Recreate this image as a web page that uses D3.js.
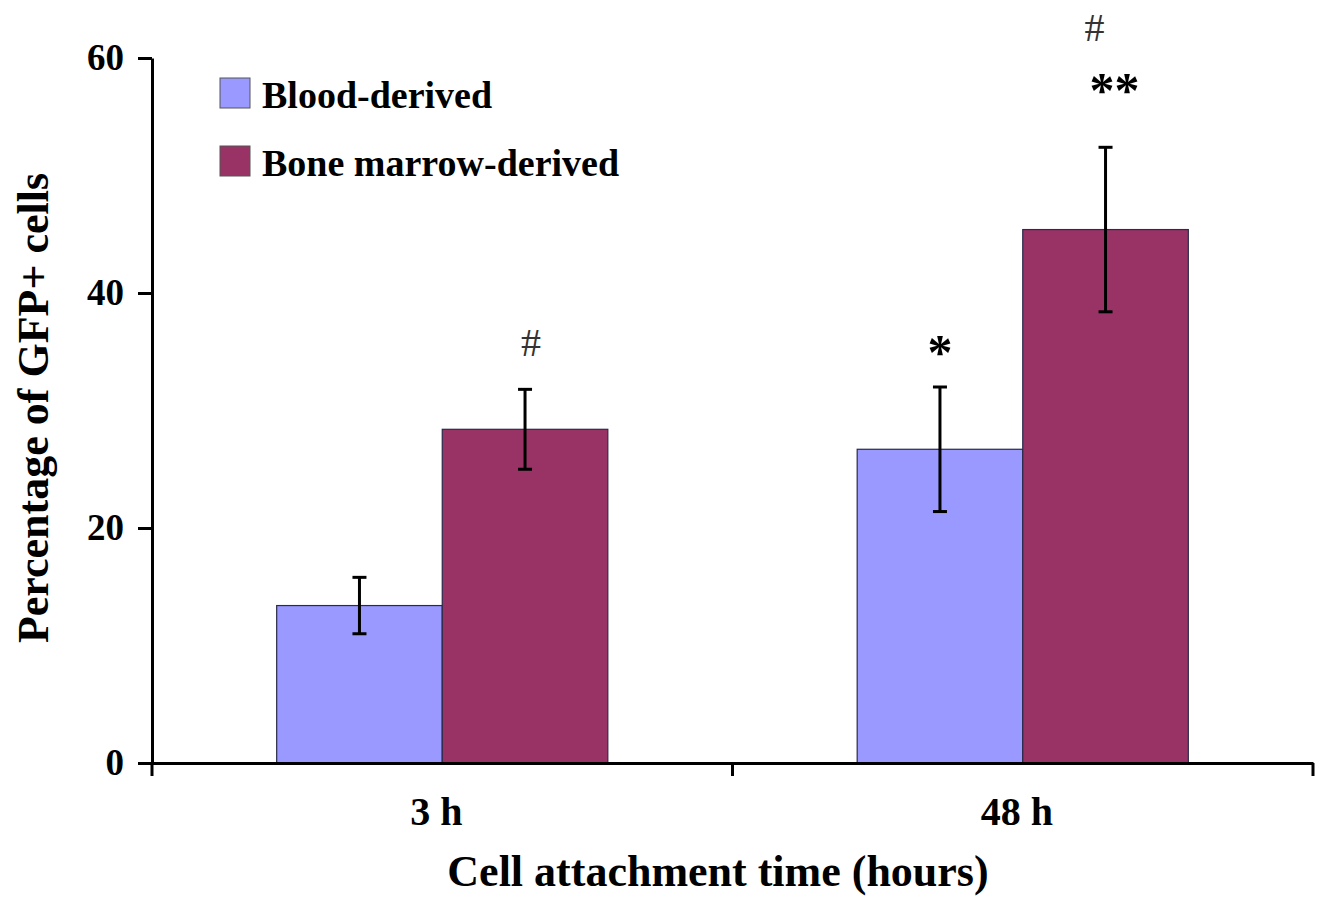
<!DOCTYPE html>
<html>
<head>
<meta charset="utf-8">
<script src="https://cdn.jsdelivr.net/npm/d3@7"></script>
<style>
  body { margin: 0; background: #fff; }
  text { font-family: "Liberation Serif", "Times New Roman", serif; }
</style>
</head>
<body>
<script>
var categories = ["3 h", "48 h"];
var series = ["Blood-derived", "Bone marrow-derived"];
var bloodValues = [13.4, 26.7];
var bloodErrors = [2.4, 5.3];
var boneValues = [28.4, 45.4];
var boneErrors = [3.4, 7.0];
var yTicks = [0, 20, 40, 60];
var marks = [
    { cat: "3 h", s: "Bone marrow-derived", text: "#" },
    { cat: "48 h", s: "Blood-derived", text: "*" },
    { cat: "48 h", s: "Bone marrow-derived", text: "**" },
    { cat: "48 h", s: "Bone marrow-derived", text: "#" }
];

// placement of the marks relative to the error bar top (layout only)
var markOffsets = [[6, -33], [0, -18], [9, -40], [-11, -106]];

var colors = { "Blood-derived": "#9999ff", "Bone marrow-derived": "#993366" };

var w = 1323, h = 899;
var margin = { top: 58, right: 10, bottom: 136, left: 152 };

var svg = d3.select("body").append("svg")
    .attr("width", w)
    .attr("height", h);

var x0 = d3.scaleBand()
    .domain(categories)
    .range([margin.left, 1313])
    .padding(0);

var x1 = d3.scaleBand()
    .domain(series)
    .range([0, x0.bandwidth()])
    .paddingInner(0)
    .paddingOuter(0.753);

var y = d3.scaleLinear()
    .domain([0, 60])
    .range([763, 58]);

var rows = [];
categories.forEach(function(c, i) {
    rows.push({ cat: c, s: series[0], v: bloodValues[i], e: bloodErrors[i] });
    rows.push({ cat: c, s: series[1], v: boneValues[i], e: boneErrors[i] });
});

// bars
svg.selectAll("rect.bar")
    .data(rows)
    .enter().append("rect")
    .attr("class", "bar")
    .attr("x", function(d) { return x0(d.cat) + x1(d.s); })
    .attr("y", function(d) { return y(d.v); })
    .attr("width", x1.bandwidth())
    .attr("height", function(d) { return y(0) - y(d.v); })
    .attr("fill", function(d) { return colors[d.s]; })
    .attr("stroke", "#2a2a4a")
    .attr("stroke-width", 1.2);

// error bars
var eb = svg.selectAll("g.err")
    .data(rows)
    .enter().append("g")
    .attr("class", "err")
    .attr("transform", function(d) {
        return "translate(" + (x0(d.cat) + x1(d.s) + x1.bandwidth() / 2) + ",0)";
    });

eb.append("line")
    .attr("y1", function(d) { return y(d.v + d.e); })
    .attr("y2", function(d) { return y(d.v - d.e); })
    .attr("stroke", "#000")
    .attr("stroke-width", 3);

eb.selectAll("line.cap")
    .data(function(d) { return [d.v + d.e, d.v - d.e]; })
    .enter().append("line")
    .attr("class", "cap")
    .attr("x1", -7).attr("x2", 7)
    .attr("y1", function(v) { return y(v); })
    .attr("y2", function(v) { return y(v); })
    .attr("stroke", "#000")
    .attr("stroke-width", 3);

// significance marks
svg.selectAll("text.mark")
    .data(marks)
    .enter().append("text")
    .attr("class", "mark")
    .attr("x", function(d, i) {
        return x0(d.cat) + x1(d.s) + x1.bandwidth() / 2 + markOffsets[i][0];
    })
    .attr("y", function(d, i) {
        var r = rows.filter(function(r) { return r.cat === d.cat && r.s === d.s; })[0];
        return y(r.v + r.e) + markOffsets[i][1];
    })
    .attr("text-anchor", "middle")
    .attr("font-size", function(d) { return d.text === "#" ? 40 : 50; })
    .attr("font-weight", function(d) { return d.text === "#" ? "normal" : "bold"; })
    .attr("fill", function(d) { return d.text === "#" ? "#333" : "#000"; })
    .text(function(d) { return d.text; });

// y axis
var yAxis = svg.append("g")
    .attr("class", "axis axis--y")
    .attr("transform", "translate(" + margin.left + ",0)")
    .call(d3.axisLeft(y).tickValues(yTicks).tickSize(14).tickPadding(14).tickSizeOuter(0));

yAxis.selectAll("text")
    .attr("font-size", 37)
    .attr("font-weight", "bold")
    .attr("fill", "#000")
    .style("font-family", "'Liberation Serif', serif");

// x axis
var xAxis = svg.append("g")
    .attr("class", "axis axis--x")
    .attr("transform", "translate(0," + y(0) + ")")
    .call(d3.axisBottom(x0).tickSize(0).tickPadding(34).tickSizeOuter(0));

xAxis.selectAll("text")
    .attr("font-size", 40)
    .attr("font-weight", "bold")
    .attr("fill", "#000")
    .attr("dx", -6)
    .style("font-family", "'Liberation Serif', serif");

var bounds = categories.map(function(c) { return x0(c); }).concat([x0.range()[1]]);
xAxis.selectAll("line.bound")
    .data(bounds)
    .enter().append("line")
    .attr("class", "bound")
    .attr("x1", function(d) { return d; })
    .attr("x2", function(d) { return d; })
    .attr("y1", 0)
    .attr("y2", 13)
    .attr("stroke", "#000")
    .attr("stroke-width", 3);

svg.selectAll(".axis path, .axis .tick line")
    .attr("stroke", "#000")
    .attr("stroke-width", 3);

// axis titles
svg.append("text")
    .attr("x", 718)
    .attr("y", 886)
    .attr("text-anchor", "middle")
    .attr("font-size", 44)
    .attr("font-weight", "bold")
    .text("Cell attachment time (hours)");

svg.append("text")
    .attr("transform", "translate(48,408) rotate(-90)")
    .attr("text-anchor", "middle")
    .attr("font-size", 44)
    .attr("font-weight", "bold")
    .text("Percentage of GFP+ cells");

// legend
var legend = svg.selectAll("g.legend")
    .data(series)
    .enter().append("g")
    .attr("class", "legend")
    .attr("transform", function(d, i) { return "translate(220," + (78 + i * 68) + ")"; });

legend.append("rect")
    .attr("width", 30)
    .attr("height", 30)
    .attr("fill", function(d) { return colors[d]; })
    .attr("stroke", "#555")
    .attr("stroke-width", 1);

legend.append("text")
    .attr("x", 42)
    .attr("y", 30)
    .attr("font-size", 38)
    .attr("font-weight", "bold")
    .text(function(d) { return d; });
</script>
</body>
</html>
